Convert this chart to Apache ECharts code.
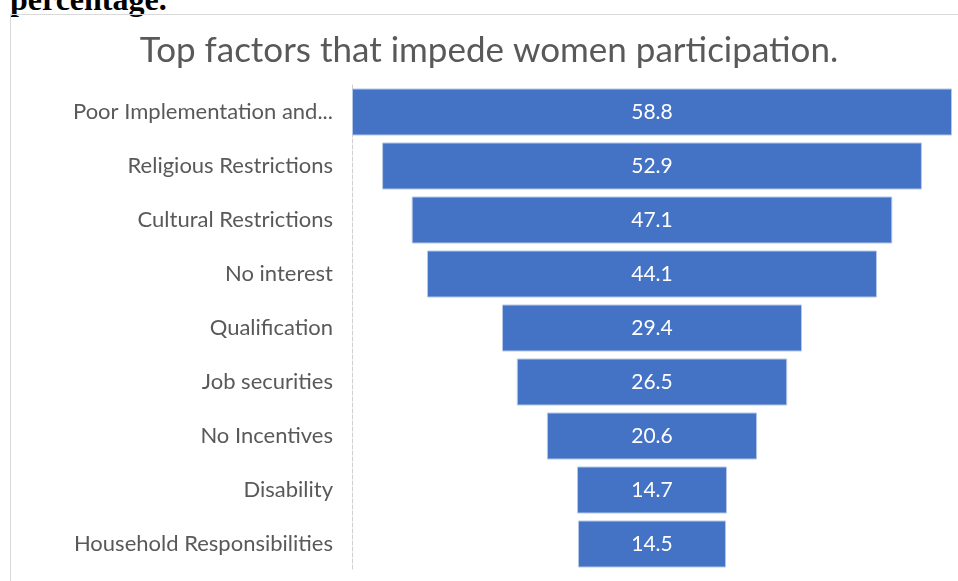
<!DOCTYPE html>
<html>
	<head>
		<meta charset="utf-8" />
		<title>Top factors that impede women participation</title>
		<script src="https://cdn.jsdelivr.net/npm/echarts@6/dist/echarts.min.js"></script>
		<style>
			html, body {
				margin: 0;
				padding: 0;
				background: #fff;
				overflow: hidden;
			}
			.cut_title {
				position: absolute;
				left: 10px;
				top: -17px;
				font-family: "Liberation Serif", serif;
				font-weight: bold;
				font-size: 32px;
				line-height: 32px;
				color: #000;
			}
			.chart_box {
				position: absolute;
				left: 10px;
				top: 14px;
				width: 980px;
				height: 600px;
				border: 1px solid #d9d9d9;
			}
			#funnelChart {
				position: absolute;
				left: 0;
				top: 0;
				width: 958px;
				height: 581px;
			}
		</style>
	</head>
	<body>
		<div class="cut_title">percentage.</div>
		<div class="chart_box"></div>
		<div id="funnelChart"></div>
		<script>
			// 数据
			var categories = ['Poor Implementation and...', 'Religious Restrictions', 'Cultural Restrictions', 'No interest',
				'Qualification', 'Job securities', 'No Incentives', 'Disability', 'Household Responsibilities'];
			var values = [58.8, 52.9, 47.1, 44.1, 29.4, 26.5, 20.6, 14.7, 14.5];

			var maxVal = Math.max.apply(null, values);
			// 透明占位，让条形居中（漏斗效果）
			var padData = values.map(function(v) {
				return (maxVal - v) / 2;
			});

			var chart = echarts.init(document.getElementById('funnelChart'));
			var option = {
				backgroundColor: 'transparent',
				animation: false,
				title: {
					text: 'Top factors that impede women participation.',
					left: 484,
					top: 28,
					textAlign: 'center',
					textStyle: {
						fontFamily: 'Lato',
						fontWeight: 'normal',
						fontSize: 35,
						color: '#595959'
					}
				},
				grid: {
					left: 352,
					right: 6,
					top: 85,
					height: 486
				},
				xAxis: {
					type: 'value',
					min: 0,
					max: maxVal,
					show: false
				},
				yAxis: {
					type: 'category',
					inverse: true,
					data: categories,
					axisTick: { show: false },
					axisLine: {
						show: true,
						lineStyle: { color: '#d0d0d0', type: 'dashed', width: 1 }
					},
					axisLabel: {
						margin: 19,
						fontFamily: 'Lato',
						fontSize: 22,
						color: '#595959'
					}
				},
				series: [{
					name: 'pad',
					type: 'bar',
					stack: 'funnel',
					barWidth: 47,
					silent: true,
					itemStyle: { color: 'transparent' },
					data: padData
				}, {
					name: 'value',
					type: 'bar',
					stack: 'funnel',
					barWidth: 47,
					itemStyle: {
						color: '#4472C4',
						borderColor: '#b4c7e7',
						borderWidth: 1
					},
					label: {
						show: true,
						position: 'inside',
						fontFamily: 'Lato',
						fontSize: 21,
						color: '#ffffff',
						formatter: function(p) {
							return p.value.toFixed(1);
						}
					},
					data: values
				}]
			};
			chart.setOption(option);
		</script>
	</body>
</html>
